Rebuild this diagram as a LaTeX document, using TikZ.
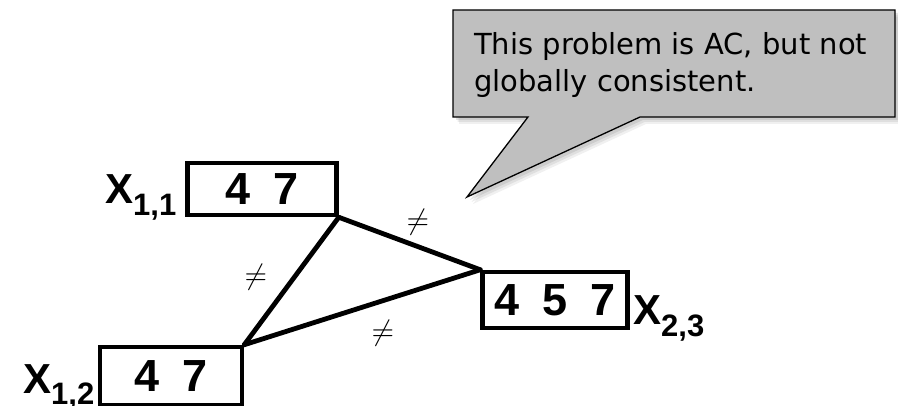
\documentclass[tikz,border=0pt]{standalone}
\usepackage{fontspec}
\setmainfont{Liberation Sans}
\newfontfamily\callfont{DejaVu Sans}
\usetikzlibrary{shadows}
\newcommand{\bigneq}{\scalebox{2.9}{$\neq$}}
\begin{document}
\begin{tikzpicture}[x=1pt,y=-1pt,
  dombox/.style={draw=black, line width=4.5pt, minimum width=#1, inner sep=0pt,
    font=\fontsize{45}{45}\selectfont\bfseries},
  varlbl/.style={inner sep=0pt, anchor=base west, font=\fontsize{42}{42}\selectfont\bfseries},
  edge/.style={draw=black, line width=4.8pt, line cap=round},
  neq/.style={inner sep=0pt},
  callout/.style={fill=black!25, draw=black, line width=1.3pt,
    drop shadow={shadow xshift=6pt, shadow yshift=-7pt, opacity=0.12},
    drop shadow={shadow xshift=4.5pt, shadow yshift=-5pt, opacity=0.15},
    drop shadow={shadow xshift=3pt, shadow yshift=-3pt, opacity=0.2}}
]
\useasboundingbox (0,0) rectangle (898,406);
% callout
\path[callout] (453,10) -- (895,10) -- (895,117) -- (640,117) -- (467,197) -- (528,117) -- (453,117) -- cycle;
\node[anchor=base west, inner sep=0pt, align=left,
  font=\callfont\fontsize{29}{37}\selectfont] (note) at (474,92)
  {This problem is AC, but not\\globally consistent.};
% domain boxes
\node[dombox=149pt, minimum height=52pt] (b11) at (262,189) {4\hspace{0.5em}7};
\node[dombox=142pt, minimum height=58pt] (b12) at (171,376) {4\hspace{0.5em}7};
\node[dombox=145pt, minimum height=56pt] (b23) at (555,300) {4\hspace{0.5em}5\hspace{0.5em}7};
% variable labels
\node[varlbl] (l11) at (105,204) {X\raisebox{-12pt}{\fontsize{31}{31}\selectfont 1,1}};
\node[varlbl] (l12) at (23,393) {X\raisebox{-12pt}{\fontsize{31}{31}\selectfont 1,2}};
\node[varlbl] (l23) at (633,325) {X\raisebox{-12pt}{\fontsize{31}{31}\selectfont 2,3}};
% constraints
\draw[edge] (b11.south east) -- (b12.north east);
\draw[edge] (b11.south east) -- (b23.north west);
\draw[edge] (b12.north east) -- (b23.north west);
\node[neq] (n1) at (418,222) {\bigneq};
\node[neq] (n2) at (256,277) {\bigneq};
\node[neq] (n3) at (383,333) {\bigneq};
\end{tikzpicture}
\end{document}
